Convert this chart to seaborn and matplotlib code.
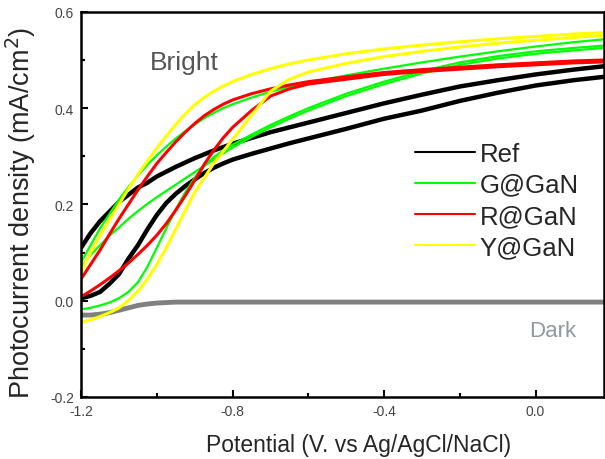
import matplotlib
matplotlib.use("Agg")
import matplotlib.pyplot as plt
from matplotlib.ticker import MultipleLocator
import pandas as pd
import seaborn as sns

# potential grid (V vs Ag/AgCl/NaCl) shared by all traces
POTENTIAL = [-1.2, -1.175, -1.15, -1.125, -1.1, -1.075, -1.05, -1.025, -1.0, -0.975,
             -0.95, -0.925, -0.9, -0.875, -0.85, -0.825, -0.8, -0.75, -0.7, -0.65,
             -0.6, -0.5, -0.4, -0.3, -0.2, -0.1, 0.0, 0.1, 0.18]

# photocurrent density (mA/cm2), one list per scan branch
REF_UPPER = [0.11, 0.14, 0.165, 0.185, 0.205, 0.22, 0.235, 0.245, 0.258, 0.268,
             0.278, 0.287, 0.296, 0.304, 0.312, 0.319, 0.326, 0.338, 0.35, 0.36,
             0.37, 0.39, 0.41, 0.428, 0.445, 0.458, 0.47, 0.48, 0.487]
REF_LOWER = [0.005, 0.01, 0.018, 0.035, 0.055, 0.087, 0.115, 0.148, 0.178, 0.203,
             0.222, 0.238, 0.252, 0.265, 0.276, 0.285, 0.293, 0.305, 0.316, 0.327,
             0.337, 0.357, 0.378, 0.395, 0.415, 0.432, 0.447, 0.458, 0.465]
G_OUTER = [0.08, 0.115, 0.15, 0.18, 0.21, 0.236, 0.26, 0.282, 0.302, 0.32,
           0.337, 0.352, 0.366, 0.379, 0.39, 0.40, 0.408, 0.422, 0.434, 0.444,
           0.453, 0.468, 0.482, 0.495, 0.507, 0.518, 0.528, 0.537, 0.543]
G_MIDDLE = [0.07, 0.095, 0.115, 0.135, 0.152, 0.17, 0.186, 0.201, 0.215, 0.228,
            0.241, 0.254, 0.267, 0.28, 0.293, 0.306, 0.318, 0.34, 0.36, 0.378,
            0.395, 0.425, 0.45, 0.472, 0.49, 0.503, 0.513, 0.52, 0.525]
G_INNER = [-0.018, -0.015, -0.01, -0.004, 0.005, 0.018, 0.038, 0.07, 0.11, 0.15,
           0.19, 0.225, 0.255, 0.28, 0.298, 0.312, 0.324, 0.345, 0.365, 0.383,
           0.40, 0.43, 0.455, 0.477, 0.495, 0.508, 0.518, 0.525, 0.53]
R_OUTER = [0.045, 0.075, 0.105, 0.138, 0.17, 0.20, 0.23, 0.258, 0.285, 0.308,
           0.33, 0.35, 0.368, 0.384, 0.397, 0.408, 0.417, 0.43, 0.44, 0.448,
           0.455, 0.465, 0.474, 0.48, 0.485, 0.49, 0.494, 0.498, 0.50]
R_INNER = [0.008, 0.02, 0.033, 0.047, 0.062, 0.078, 0.096, 0.115, 0.136, 0.16,
           0.188, 0.218, 0.25, 0.283, 0.312, 0.338, 0.36, 0.395, 0.425, 0.44,
           0.45, 0.46, 0.47, 0.476, 0.481, 0.486, 0.49, 0.494, 0.496]
Y_OUTER = [0.06, 0.10, 0.135, 0.168, 0.20, 0.232, 0.262, 0.29, 0.317, 0.342,
           0.366, 0.388, 0.407, 0.422, 0.435, 0.446, 0.455, 0.47, 0.482, 0.492,
           0.50, 0.513, 0.523, 0.531, 0.538, 0.544, 0.549, 0.554, 0.557]
Y_INNER = [-0.045, -0.04, -0.033, -0.025, -0.015, 0.0, 0.02, 0.045, 0.075, 0.11,
           0.148, 0.187, 0.225, 0.255, 0.285, 0.31, 0.335, 0.385, 0.435, 0.46,
           0.475, 0.493, 0.507, 0.518, 0.527, 0.535, 0.541, 0.547, 0.551]
DARK = [-0.03, -0.03, -0.028, -0.025, -0.02, -0.015, -0.01, -0.007, -0.005, -0.004,
        -0.003, -0.003, -0.003, -0.003, -0.003, -0.003, -0.003, -0.003, -0.003, -0.003,
        -0.003, -0.003, -0.003, -0.003, -0.003, -0.003, -0.003, -0.003, -0.003]

SAMPLES = ["Ref", "G@GaN", "R@GaN", "Y@GaN"]
COLORS = {"Ref": "black", "G@GaN": "#00ff00", "R@GaN": "#ff0000", "Y@GaN": "#ffff00", "Dark": "#808080"}
WIDTHS = {"Ref": 3.2, "G@GaN": 1.6, "R@GaN": 2.2, "Y@GaN": 2.2, "Dark": 3.5}


def build_frame() -> pd.DataFrame:
    branches = [
        ("Dark", "dark", DARK),
        ("Ref", "up", REF_UPPER),
        ("Ref", "down", REF_LOWER),
        ("G@GaN", "outer", G_OUTER),
        ("G@GaN", "middle", G_MIDDLE),
        ("G@GaN", "inner", G_INNER),
        ("R@GaN", "outer", R_OUTER),
        ("R@GaN", "inner", R_INNER),
        ("Y@GaN", "outer", Y_OUTER),
        ("Y@GaN", "inner", Y_INNER),
    ]
    rows = []
    for sample, branch, values in branches:
        for x, y in zip(POTENTIAL, values):
            rows.append({"sample": sample, "branch": branch, "potential": x, "current": y})
    return pd.DataFrame(rows)


def main() -> None:
    sns.set_theme(style="ticks")
    plt.rcParams["font.family"] = ["Liberation Sans", "DejaVu Sans"]
    plt.rcParams["axes.unicode_minus"] = False

    df = build_frame()
    fig = plt.figure(figsize=(6.05, 4.6), dpi=100)
    ax = fig.add_axes([0.134, 0.135, 0.864, 0.837])

    for sample in ["Dark", "Ref", "G@GaN", "R@GaN", "Y@GaN"]:
        sub = df[df["sample"] == sample]
        sns.lineplot(data=sub, x="potential", y="current", units="branch", estimator=None,
                     sort=False, color=COLORS[sample], linewidth=WIDTHS[sample], ax=ax,
                     legend=False)

    handles = [plt.Line2D([], [], color=COLORS[s], linewidth=1.5) for s in SAMPLES]
    ax.legend(handles, SAMPLES, loc="upper left", bbox_to_anchor=(0.62, 0.69), frameon=False,
              fontsize=18.5, handlelength=2.3, handletextpad=0.2, labelspacing=0.28,
              borderaxespad=0)

    ax.text(-1.018, 0.482, "Bright", fontsize=19, color="#555555")
    ax.text(-0.018, -0.073, "Dark", fontsize=16, color="#8f9a9a")

    ax.set_xlim(-1.2, 0.18)
    ax.set_ylim(-0.2, 0.6)
    ax.xaxis.set_major_locator(MultipleLocator(0.4))
    ax.xaxis.set_minor_locator(MultipleLocator(0.2))
    ax.yaxis.set_major_locator(MultipleLocator(0.2))
    ax.yaxis.set_minor_locator(MultipleLocator(0.1))
    ax.xaxis.set_major_formatter(lambda v, p: f"{v:.1f}")
    ax.yaxis.set_major_formatter(lambda v, p: f"{v:.1f}")
    ax.tick_params(which="both", direction="in", width=1.5, colors="black", labelcolor="#444444",
                   labelsize=10)
    ax.tick_params(which="major", length=5, pad=5)
    ax.tick_params(which="minor", length=3)
    ax.set_xlabel("Potential (V. vs Ag/AgCl/NaCl)", fontsize=16.5)
    ax.set_ylabel("Photocurrent density (mA/cm$^2$)", fontsize=19.5)
    ax.xaxis.set_label_coords(0.53, -0.095)
    ax.yaxis.set_label_coords(-0.082, 0.48)
    for spine in ax.spines.values():
        spine.set_color("black")
        spine.set_linewidth(1.8)

    fig.savefig("out.png", dpi=100, facecolor="white")
    plt.close(fig)


if __name__ == "__main__":
    main()
